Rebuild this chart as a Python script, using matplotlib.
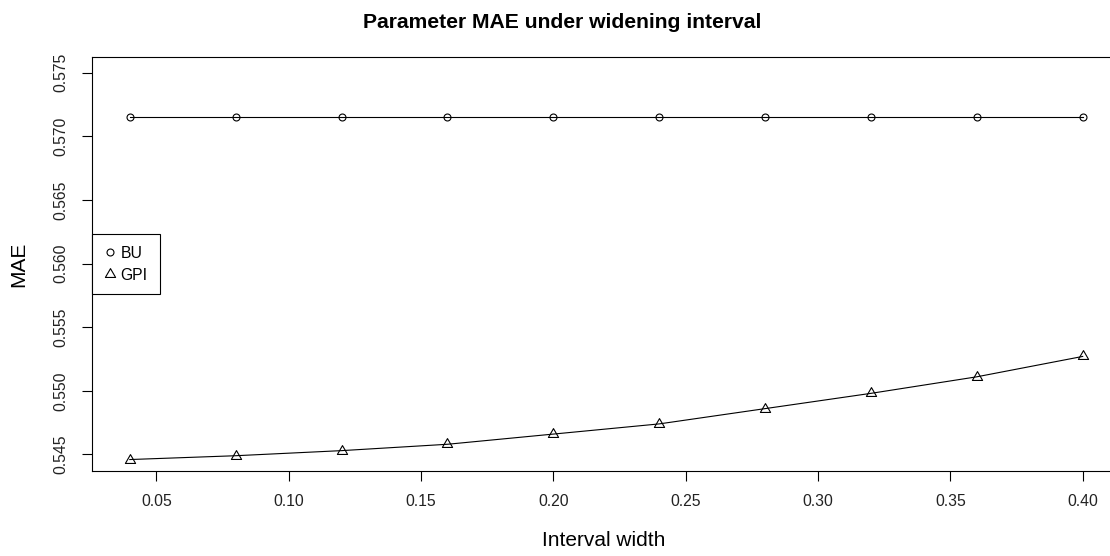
import matplotlib
matplotlib.use("Agg")
import matplotlib.pyplot as plt
import numpy as np
from matplotlib.path import Path

plt.rcParams["font.family"] = ["Liberation Sans", "DejaVu Sans"]

# data
widths = [0.04, 0.08, 0.12, 0.16, 0.20, 0.24, 0.28, 0.32, 0.36, 0.40]
bu_mae = [0.5715, 0.5715, 0.5715, 0.5715, 0.5715, 0.5715, 0.5715, 0.5715, 0.5715, 0.5715]
gpi_mae = [0.5446, 0.5449, 0.5453, 0.5458, 0.5466, 0.5474, 0.5486, 0.5498, 0.5511, 0.5527]
x_ticks = [0.05, 0.10, 0.15, 0.20, 0.25, 0.30, 0.35, 0.40]
y_ticks = [0.545, 0.550, 0.555, 0.560, 0.565, 0.570, 0.575]

# R style open triangle (point at the centroid)
TRIANGLE = Path([(0, 1.555), (-1.347, -0.778), (1.347, -0.778), (0, 1.555)],
                [Path.MOVETO, Path.LINETO, Path.LINETO, Path.CLOSEPOLY])

W, H = 1110, 556
figure = plt.figure(figsize=(W / 100, H / 100), dpi=100)
axis = figure.add_axes([91.7 / W, (H - 471) / H, (1120.8 - 91.7) / W, (471 - 57.3) / H])

axis.plot(widths, bu_mae, c="black", lw=0.8, marker="o", ms=5, mfc="none", mew=0.8, label="BU")
axis.plot(widths, gpi_mae, c="black", lw=0.8, marker=TRIANGLE, ms=8.5, mfc="none", mew=0.8, label="GPI")

axis.set_xlim(0.0256, 0.4144)
axis.set_ylim(0.5437, 0.5762)
axis.set_xticks(x_ticks)
axis.set_xticklabels([f"{v:.2f}" for v in x_ticks], fontsize=11.3, color="#222222")
axis.set_yticks(y_ticks)
axis.set_yticklabels([f"{v:.3f}" for v in y_ticks], fontsize=11.3, color="#222222",
                     rotation=90, va="center")
axis.tick_params(direction="out", length=7, width=0.8, pad=9.5)
for spine in axis.spines.values():
    spine.set_linewidth(0.8)

figure.text(562 / W, 1 - 22 / H, "Parameter MAE under widening interval",
            fontsize=15.2, fontweight="bold", ha="center", va="center")
figure.text(604 / W, 1 - 540 / H, "Interval width", fontsize=15, ha="center", va="center")
figure.text(19 / W, 1 - 264 / H, "MAE", fontsize=15, ha="center", va="center", rotation=90)

legend = axis.legend(loc="center left", bbox_to_anchor=(0, 0.5), borderaxespad=0,
                     fancybox=False, frameon=True, edgecolor="black", fontsize=11.3,
                     handlelength=0.8, handletextpad=0.3, labelspacing=0.45,
                     borderpad=0.75, framealpha=1)
legend.get_frame().set_linewidth(0.8)
for handle in legend.get_lines():
    handle.set_linestyle("none")

figure.savefig("out.png", dpi=100)
